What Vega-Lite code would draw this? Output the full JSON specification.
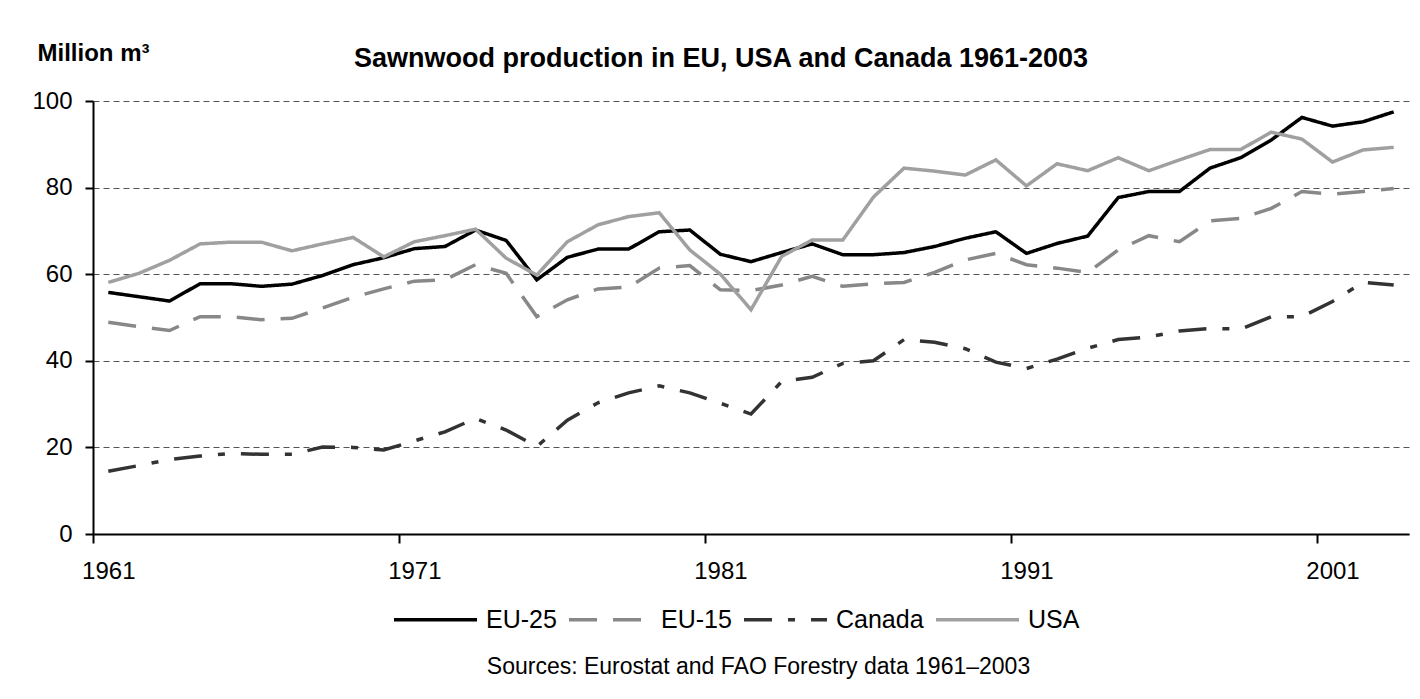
{
  "$schema": "https://vega.github.io/schema/vega-lite/v6.json",
  "width": 1316,
  "height": 433,
  "autosize": "none",
  "padding": {"left": 93, "top": 101, "right": 11, "bottom": 165},
  "background": "white",
  "config": {
    "font": "Liberation Sans",
    "view": {"stroke": null}
  },
  "title": {
    "text": "Sawnwood production in EU, USA and Canada 1961-2003",
    "font": "Liberation Sans",
    "fontSize": 27,
    "fontWeight": "bold",
    "color": "#000000",
    "anchor": "middle",
    "frame": "group",
    "baseline": "alphabetic",
    "offset": -53,
    "dx": -30
  },
  "data": {
    "values": [
      {"year": 1961, "EU-25": 55.8, "EU-15": 48.9, "Canada": 14.5, "USA": 58.1},
      {"year": 1962, "EU-25": 54.8, "EU-15": 47.9, "Canada": 15.8, "USA": 60.2},
      {"year": 1963, "EU-25": 53.8, "EU-15": 47.0, "Canada": 17.2, "USA": 63.2},
      {"year": 1964, "EU-25": 57.8, "EU-15": 50.2, "Canada": 18.0, "USA": 67.0},
      {"year": 1965, "EU-25": 57.8, "EU-15": 50.2, "Canada": 18.6, "USA": 67.4},
      {"year": 1966, "EU-25": 57.2, "EU-15": 49.5, "Canada": 18.4, "USA": 67.4},
      {"year": 1967, "EU-25": 57.7, "EU-15": 49.8, "Canada": 18.4, "USA": 65.4},
      {"year": 1968, "EU-25": 59.7, "EU-15": 52.2, "Canada": 20.1, "USA": 67.0},
      {"year": 1969, "EU-25": 62.2, "EU-15": 54.7, "Canada": 20.0, "USA": 68.5},
      {"year": 1970, "EU-25": 63.8, "EU-15": 56.6, "Canada": 19.4, "USA": 64.0},
      {"year": 1971, "EU-25": 65.9, "EU-15": 58.4, "Canada": 21.5, "USA": 67.5},
      {"year": 1972, "EU-25": 66.4, "EU-15": 58.7, "Canada": 23.6, "USA": 68.9},
      {"year": 1973, "EU-25": 70.2, "EU-15": 62.2, "Canada": 26.7, "USA": 70.4},
      {"year": 1974, "EU-25": 67.8, "EU-15": 60.2, "Canada": 24.0, "USA": 63.7},
      {"year": 1975, "EU-25": 58.7, "EU-15": 50.2, "Canada": 20.2, "USA": 59.8},
      {"year": 1976, "EU-25": 63.9, "EU-15": 54.1, "Canada": 26.3, "USA": 67.5},
      {"year": 1977, "EU-25": 65.8, "EU-15": 56.6, "Canada": 30.3, "USA": 71.4},
      {"year": 1978, "EU-25": 65.8, "EU-15": 57.0, "Canada": 32.6, "USA": 73.3},
      {"year": 1979, "EU-25": 69.8, "EU-15": 61.4, "Canada": 34.2, "USA": 74.2},
      {"year": 1980, "EU-25": 70.2, "EU-15": 62.0, "Canada": 32.6, "USA": 65.6},
      {"year": 1981, "EU-25": 64.6, "EU-15": 56.4, "Canada": 30.2, "USA": 60.0},
      {"year": 1982, "EU-25": 62.9, "EU-15": 56.2, "Canada": 27.7, "USA": 51.8},
      {"year": 1983, "EU-25": 65.0, "EU-15": 57.5, "Canada": 35.2, "USA": 64.1},
      {"year": 1984, "EU-25": 67.0, "EU-15": 59.5, "Canada": 36.2, "USA": 67.9},
      {"year": 1985, "EU-25": 64.5, "EU-15": 57.2, "Canada": 39.4, "USA": 67.9},
      {"year": 1986, "EU-25": 64.5, "EU-15": 57.8, "Canada": 40.0, "USA": 77.8},
      {"year": 1987, "EU-25": 65.0, "EU-15": 58.1, "Canada": 44.9, "USA": 84.5},
      {"year": 1988, "EU-25": 66.4, "EU-15": 60.4, "Canada": 44.3, "USA": 83.8},
      {"year": 1989, "EU-25": 68.3, "EU-15": 63.3, "Canada": 42.8, "USA": 82.9},
      {"year": 1990, "EU-25": 69.8, "EU-15": 64.8, "Canada": 39.7, "USA": 86.4},
      {"year": 1991, "EU-25": 64.8, "EU-15": 62.2, "Canada": 38.2, "USA": 80.4},
      {"year": 1992, "EU-25": 67.1, "EU-15": 61.4, "Canada": 40.4, "USA": 85.5},
      {"year": 1993, "EU-25": 68.8, "EU-15": 60.4, "Canada": 42.9, "USA": 83.9},
      {"year": 1994, "EU-25": 77.7, "EU-15": 65.6, "Canada": 44.9, "USA": 86.9},
      {"year": 1995, "EU-25": 79.1, "EU-15": 68.9, "Canada": 45.5, "USA": 83.9},
      {"year": 1996, "EU-25": 79.1, "EU-15": 67.5, "Canada": 46.9, "USA": 86.4},
      {"year": 1997, "EU-25": 84.5, "EU-15": 72.3, "Canada": 47.5, "USA": 88.8},
      {"year": 1998, "EU-25": 86.9, "EU-15": 72.9, "Canada": 47.3, "USA": 88.8},
      {"year": 1999, "EU-25": 91.0, "EU-15": 75.2, "Canada": 50.2, "USA": 92.8},
      {"year": 2000, "EU-25": 96.2, "EU-15": 79.1, "Canada": 50.2, "USA": 91.2},
      {"year": 2001, "EU-25": 94.2, "EU-15": 78.5, "Canada": 53.7, "USA": 85.9},
      {"year": 2002, "EU-25": 95.2, "EU-15": 79.1, "Canada": 58.1, "USA": 88.7},
      {"year": 2003, "EU-25": 97.5, "EU-15": 79.8, "Canada": 57.5, "USA": 89.3}
    ]
  },
  "transform": [
    {"fold": ["EU-25", "EU-15", "Canada", "USA"], "as": ["series", "value"]}
  ],
  "mark": {"type": "line", "strokeWidth": 3.5},
  "encoding": {
    "x": {
      "field": "year",
      "type": "quantitative",
      "scale": {"domain": [1960.5, 2003.5], "nice": false, "zero": false},
      "axis": {
        "values": [1960.5, 1970.5, 1980.5, 1990.5, 2000.5],
        "labelExpr": "datum.value + 0.5",
        "labelOffset": 15.3,
        "labelFlush": false,
        "labelOverlap": false,
        "labelFontSize": 24,
        "labelColor": "#000000",
        "labelBaseline": "top",
        "labelPadding": 16,
        "tickSize": 9,
        "tickWidth": 2,
        "tickColor": "#000000",
        "domainColor": "#000000",
        "domainWidth": 2,
        "grid": false,
        "title": "Sources: Eurostat and FAO Forestry data 1961\u20132003",
        "titleFontSize": 23,
        "titleFontWeight": "normal",
        "titleColor": "#000000",
        "titleX": 665,
        "titleY": 139,
        "titleAlign": "center",
        "titleBaseline": "alphabetic",
        "titleAngle": 0
      }
    },
    "y": {
      "field": "value",
      "type": "quantitative",
      "scale": {"domain": [0, 100], "nice": false},
      "axis": {
        "values": [0, 20, 40, 60, 80, 100],
        "labelFontSize": 24,
        "labelColor": "#000000",
        "labelPadding": 13,
        "tickSize": 8,
        "tickWidth": 2,
        "tickColor": "#000000",
        "domainColor": "#000000",
        "domainWidth": 2,
        "grid": true,
        "gridColor": "#555555",
        "gridDash": [6, 4],
        "gridWidth": 1,
        "title": "Million m\u00b3",
        "titleFontSize": 24,
        "titleFontWeight": "bold",
        "titleColor": "#000000",
        "titleAngle": 0,
        "titleAlign": "left",
        "titleBaseline": "alphabetic",
        "titleX": -56,
        "titleY": -41
      }
    },
    "color": {
      "field": "series",
      "type": "nominal",
      "scale": {
        "domain": ["EU-25", "EU-15", "Canada", "USA"],
        "range": ["#000000", "#888888", "#333333", "#a0a0a0"]
      },
      "legend": {
        "orient": "none",
        "legendX": 299,
        "legendY": 475,
        "direction": "horizontal",
        "columns": 4,
        "title": null,
        "symbolType": "stroke",
        "symbolSize": 6889,
        "symbolStrokeWidth": 3.5,
        "labelFontSize": 25,
        "labelColor": "#000000",
        "labelOffset": 7,
        "labelLimit": 300,
        "columnPadding": 5,
        "padding": 0
      }
    },
    "strokeDash": {
      "field": "series",
      "type": "nominal",
      "scale": {
        "domain": ["EU-25", "EU-15", "Canada", "USA"],
        "range": [[1, 0], [28, 16], [28, 16, 7, 16], [1, 0]]
      },
      "legend": {
        "orient": "none",
        "legendX": 299,
        "legendY": 475,
        "direction": "horizontal",
        "columns": 4,
        "title": null,
        "symbolType": "stroke",
        "symbolSize": 6889,
        "symbolStrokeWidth": 3.5,
        "labelFontSize": 25,
        "labelColor": "#000000",
        "labelOffset": 7,
        "labelLimit": 300,
        "columnPadding": 5,
        "padding": 0
      }
    }
  }
}
